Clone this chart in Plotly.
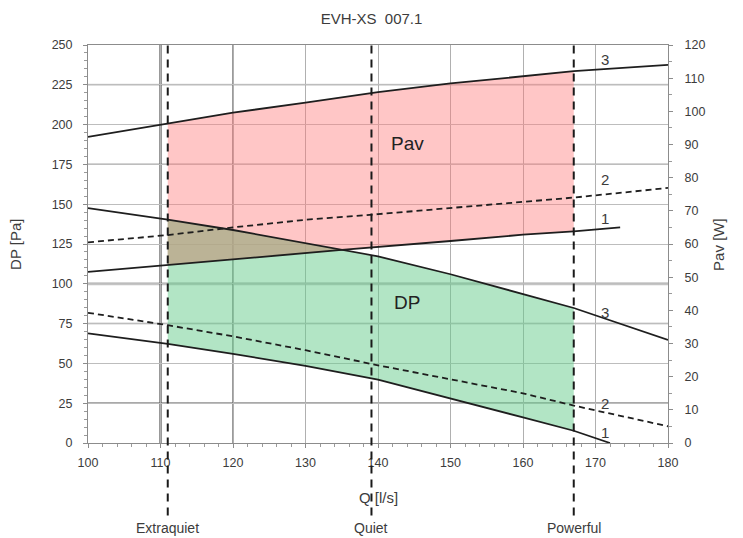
import plotly.graph_objects as go

# Fan curves: pressure (DP, Pa) and absorbed power (Pav, W) versus airflow Q (l/s)
q_dp3 = [100, 111, 120, 130, 135, 140, 150, 160, 167, 180]
dp3 = [147.6, 140.3, 133.8, 125.5, 121.5, 117.3, 106.0, 93.5, 84.8, 64.7]

q_dp2 = [100, 111, 120, 130, 140, 150, 160, 167, 180]
dp2 = [81.8, 74.0, 67.0, 58.3, 48.8, 40.2, 31.2, 23.5, 10.5]

q_dp1 = [100, 111, 120, 130, 140, 150, 160, 167, 172]
dp1 = [68.9, 62.2, 56.0, 48.5, 39.8, 28.1, 16.1, 7.7, 0.0]

q_pav3 = [100, 111, 120, 130, 140, 150, 160, 167, 180]
pav3 = [92.3, 96.4, 99.6, 102.6, 105.8, 108.4, 110.6, 112.1, 114.0]

q_pav2 = [100, 111, 120, 130, 140, 150, 160, 167, 180]
pav2 = [60.5, 62.7, 65.0, 67.3, 69.0, 70.9, 72.6, 74.0, 76.9]

q_pav1 = [100, 111, 120, 135, 150, 160, 167, 173.4]
pav1 = [51.6, 53.7, 55.4, 58.2, 60.9, 62.8, 63.8, 65.0]

# Operating modes
mode_names = ["Extraquiet", "Quiet", "Powerful"]
mode_q = [111, 139.1, 167]

# Axis ranges
q_range = [100, 180]
dp_range = [0, 250]
pav_range = [0, 120]
pa_per_w = dp_range[1] / pav_range[1]

q_lo, q_hi = mode_q[0], mode_q[-1]
q_cross = 135  # DP3 meets Pav1

FONT = "Liberation Sans, Arial, sans-serif"
TXT = "#3c3c3c"


def window(qs, vs, lo, hi):
    pts = [(q, v) for q, v in zip(qs, vs) if lo <= q <= hi]
    return [p[0] for p in pts], [p[1] for p in pts]


fig = go.Figure()

# Pav working band (drawn in Pa units so every fill shares one layer)
a_q, a_v = window(q_pav3, pav3, q_lo, q_hi)
b_q, b_v = window(q_pav1, pav1, q_lo, q_hi)
fig.add_trace(go.Scatter(
    x=a_q + b_q[::-1], y=[v * pa_per_w for v in a_v + b_v[::-1]],
    fill="toself", fillcolor="rgba(255,120,120,0.42)", line=dict(width=0),
    mode="lines", hoverinfo="skip", showlegend=False))

# DP working band
a_q, a_v = window(q_dp3, dp3, q_lo, q_hi)
b_q, b_v = window(q_dp1, dp1, q_lo, q_hi)
fig.add_trace(go.Scatter(
    x=a_q + b_q[::-1], y=a_v + b_v[::-1],
    fill="toself", fillcolor="rgba(101,203,139,0.50)", line=dict(width=0),
    mode="lines", hoverinfo="skip", showlegend=False))

# Overlap of both bands
a_q, a_v = window(q_dp3, dp3, q_lo, q_cross)
b_q, b_v = window(q_pav1, pav1, q_lo, q_cross)
fig.add_trace(go.Scatter(
    x=a_q + b_q[::-1], y=a_v + [v * pa_per_w for v in b_v[::-1]],
    fill="toself", fillcolor="rgba(195,160,135,0.55)", line=dict(width=0),
    mode="lines", hoverinfo="skip", showlegend=False))

solid = dict(color="#1e1e1e", width=1.8)
dashed = dict(color="#1e1e1e", width=1.8, dash="6px,4px")

for qs, vs, ln in [(q_dp3, dp3, solid), (q_dp2, dp2, dashed), (q_dp1, dp1, solid)]:
    fig.add_trace(go.Scatter(x=qs, y=vs, mode="lines", line=ln,
                             hoverinfo="skip", showlegend=False))

for qs, vs, ln in [(q_pav3, pav3, solid), (q_pav2, pav2, dashed), (q_pav1, pav1, solid)]:
    fig.add_trace(go.Scatter(x=qs, y=vs, mode="lines", line=ln, yaxis="y2",
                             hoverinfo="skip", showlegend=False))

shapes = []
# Emphasised grid lines
for y, col, w in [(175, "#555555", 1.3), (25, "#555555", 1.3), (100, "#c4c4c4", 3),
                  (225, "#d2d2d2", 2), (75, "#d2d2d2", 2)]:
    shapes.append(dict(type="line", xref="paper", yref="y", x0=0, x1=1, y0=y, y1=y,
                       line=dict(color=col, width=w), layer="below"))
for x, col, w in [(110, "#555555", 2.2), (120, "#666666", 1.3)]:
    shapes.append(dict(type="line", xref="x", yref="paper", x0=x, x1=x, y0=0, y1=1,
                       line=dict(color=col, width=w), layer="below"))
# Operating mode markers, running below the axis to their labels
for q in mode_q:
    shapes.append(dict(type="line", xref="x", yref="paper", x0=q, x1=q, y0=-0.182, y1=1,
                       line=dict(color="#1a1a1a", width=2, dash="8px,6px"), layer="above"))

annotations = []
for name, q in zip(mode_names, mode_q):
    annotations.append(dict(x=q, y=-0.214, xref="x", yref="paper", text=name,
                            xanchor="center", yanchor="middle", showarrow=False,
                            font=dict(family=FONT, size=14, color=TXT)))
annotations += [
    dict(x=0.5, y=-0.136, xref="paper", yref="paper", text="Q [l/s]", showarrow=False,
         xanchor="center", yanchor="middle", font=dict(family=FONT, size=15, color=TXT)),
    dict(x=-0.126, y=0.5, xref="paper", yref="paper", text="DP [Pa]", textangle=-90,
         xanchor="center", yanchor="middle", showarrow=False,
         font=dict(family=FONT, size=15, color=TXT)),
    dict(x=1.086, y=0.5, xref="paper", yref="paper", text="Pav [W]", textangle=-90,
         xanchor="center", yanchor="middle", showarrow=False,
         font=dict(family=FONT, size=15, color=TXT)),
    dict(x=144, y=188, xref="x", yref="y", text="Pav", showarrow=False,
         font=dict(family=FONT, size=19, color="#222")),
    dict(x=144, y=88.5, xref="x", yref="y", text="DP", showarrow=False,
         font=dict(family=FONT, size=19, color="#222")),
]
# Speed numbers next to the curves
for txt, y, ax in [("3", 115.5, "y2"), ("2", 79.3, "y2"), ("1", 67.8, "y2"),
                   ("3", 81.7, "y"), ("2", 25.1, "y"), ("1", 6.3, "y")]:
    annotations.append(dict(x=171.3, y=y, xref="x", yref=ax, text=txt, showarrow=False,
                            font=dict(family=FONT, size=15, color=TXT)))

tick_font = dict(family=FONT, size=12.5, color=TXT)
axis_common = dict(showline=True, linecolor="#8c8c8c", linewidth=1, ticks="outside",
                   tickcolor="#8c8c8c", ticklen=4, tickfont=tick_font, zeroline=False)

fig.update_layout(
    template="none",
    width=743, height=538,
    margin=dict(l=88, r=75, t=45, b=95),
    paper_bgcolor="white", plot_bgcolor="white",
    font=dict(family=FONT, color=TXT),
    title=dict(text="EVH-XS\u00a0\u00a0007.1", x=0.5, xanchor="center", y=0.965, yanchor="middle",
               font=dict(family=FONT, size=15, color=TXT)),
    xaxis=dict(range=q_range, dtick=10, tick0=100, showgrid=True, gridcolor="#b0b0b0",
               gridwidth=1, mirror=True, ticklabelstandoff=4,
               minor=dict(dtick=2, ticks="outside", ticklen=3, tickcolor="#9a9a9a"),
               **axis_common),
    yaxis=dict(range=dp_range, dtick=25, showgrid=True, gridcolor="#bdbdbd", gridwidth=1,
               ticklabelstandoff=8,
               minor=dict(dtick=5, ticks="outside", ticklen=3, tickcolor="#9a9a9a"),
               **axis_common),
    yaxis2=dict(range=pav_range, dtick=10, overlaying="y", side="right", showgrid=False,
                ticklabelstandoff=9,
                minor=dict(dtick=5, ticks="outside", ticklen=3, tickcolor="#9a9a9a"),
                **axis_common),
    shapes=shapes, annotations=annotations,
)

fig.write_html("out.html")
